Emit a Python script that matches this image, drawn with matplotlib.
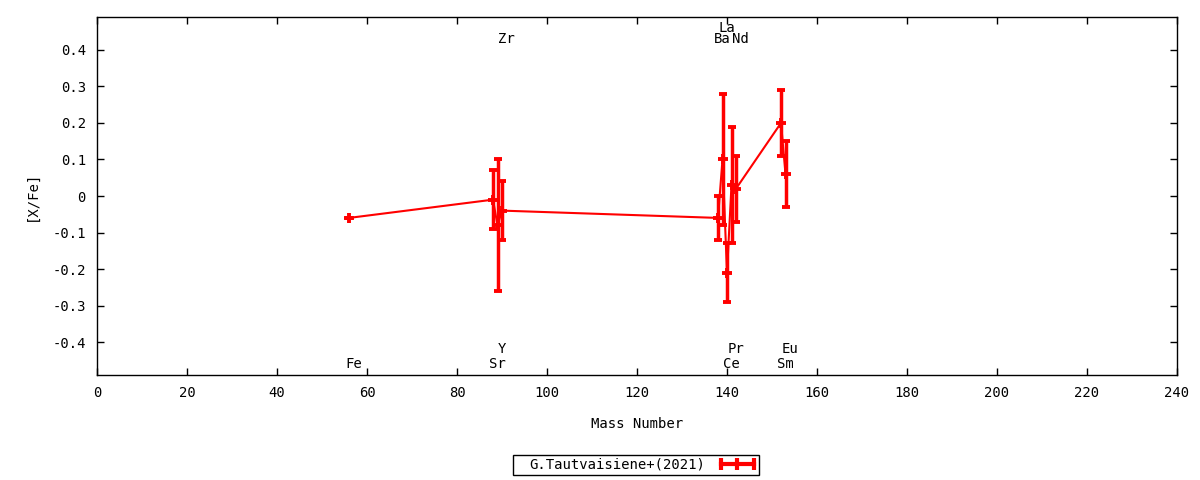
import numpy as np
import matplotlib.pyplot as plt
from matplotlib.lines import Line2D
from matplotlib.patches import Rectangle

plt.rcParams['font.family'] = 'DejaVu Sans Mono'
plt.rcParams['font.size'] = 10

# data
elements = ["Fe", "Sr", "Y", "Zr", "Ba", "La", "Ce", "Pr", "Nd", "Sm", "Eu"]
mass = [56, 88, 89, 90, 138, 139, 140, 141, 142, 152, 153]
xfe = [-0.06, -0.01, -0.08, -0.04, -0.06, 0.10, -0.21, 0.03, 0.02, 0.20, 0.06]
err = [0.0, 0.08, 0.18, 0.08, 0.06, 0.18, 0.08, 0.16, 0.09, 0.09, 0.09]
# label rows: y value of each element name
label_y = [-0.46, -0.46, -0.42, 0.43, 0.43, 0.46, -0.46, -0.42, 0.43, -0.46, -0.42]

fig = plt.figure(figsize=(12, 4.8), dpi=100)
ax = fig.add_axes([97/1200, 1-375/480, 1080/1200, 358/480])

ax.errorbar(mass, xfe, yerr=err, color='red', lw=1.5, elinewidth=2.5,
            capsize=3, capthick=2.8, marker='+', ms=6.5, mew=2.8)

for el, m, ly in zip(elements, mass, label_y):
    ax.text(m + 1, ly, el, ha='center', va='center', fontsize=10)

ax.set_xlim(0, 240)
ax.set_ylim(-0.49, 0.49)
ax.set_xticks(np.arange(0, 241, 20))
yt = np.round(np.arange(-0.4, 0.41, 0.1), 1)
ax.set_yticks(yt)
ax.set_yticklabels(["0" if v == 0 else "%g" % v for v in yt])
ax.tick_params(direction='in', top=True, right=True, length=5, width=1, pad=8)
for s in ax.spines.values():
    s.set_linewidth(1)

ax.set_xlabel("Mass Number", labelpad=12)
ax.set_ylabel("[X/Fe]", labelpad=10)

h = Line2D([], [], color='red', lw=3, marker='|', ms=9, mew=3)
leg = fig.legend([h], ["G.Tautvaisiene+(2021)"], loc='center',
                 bbox_to_anchor=(644/1200, 1-465/480), numpoints=3,
                 markerfirst=False, frameon=False, handlelength=3,
                 handletextpad=0.8, borderpad=0.15, fontsize=10)
fig.patches.append(Rectangle((513/1200, 1-475/480), 246/1200, 20/480,
                             transform=fig.transFigure, fill=False,
                             edgecolor='black', lw=1))

fig.savefig("out.png", dpi=100)
